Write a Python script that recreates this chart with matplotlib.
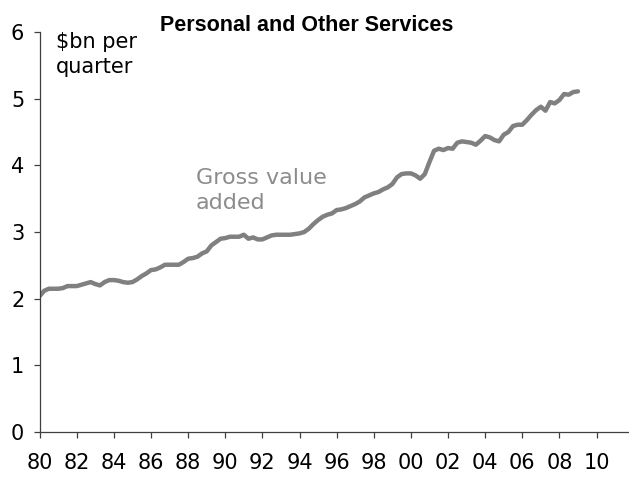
import numpy as np
import matplotlib.pyplot as plt

# Gross value added, personal and other services ($bn per quarter), 1980Q1 - 2009Q1
gva = [
    2.04, 2.12, 2.15, 2.15,   # 1980
    2.15, 2.16, 2.19, 2.19,   # 1981
    2.19, 2.21, 2.23, 2.25,   # 1982
    2.22, 2.20, 2.25, 2.28,   # 1983
    2.28, 2.27, 2.25, 2.24,   # 1984
    2.25, 2.29, 2.34, 2.38,   # 1985
    2.43, 2.44, 2.47, 2.51,   # 1986
    2.51, 2.51, 2.51, 2.55,   # 1987
    2.60, 2.61, 2.63, 2.68,   # 1988
    2.71, 2.80, 2.85, 2.90,   # 1989
    2.91, 2.93, 2.93, 2.93,   # 1990
    2.96, 2.90, 2.92, 2.89,   # 1991
    2.89, 2.92, 2.95, 2.96,   # 1992
    2.96, 2.96, 2.96, 2.97,   # 1993
    2.98, 3.00, 3.05, 3.12,   # 1994
    3.18, 3.23, 3.26, 3.28,   # 1995
    3.33, 3.34, 3.36, 3.39,   # 1996
    3.42, 3.46, 3.52, 3.55,   # 1997
    3.58, 3.60, 3.64, 3.67,   # 1998
    3.72, 3.82, 3.87, 3.88,   # 1999
    3.88, 3.85, 3.80, 3.87,   # 2000
    4.05, 4.22, 4.25, 4.23,   # 2001
    4.26, 4.25, 4.34, 4.36,   # 2002
    4.35, 4.34, 4.31, 4.37,   # 2003
    4.44, 4.42, 4.38, 4.36,   # 2004
    4.46, 4.50, 4.59, 4.61,   # 2005
    4.61, 4.68, 4.76, 4.83,   # 2006
    4.88, 4.82, 4.95, 4.93,   # 2007
    4.98, 5.07, 5.06, 5.10,   # 2008
    5.11,                     # 2009
]
start_year = 1980
tick_years = list(range(1980, 2011, 2))
tick_labels = ['%02d' % (y % 100) for y in tick_years]
y_ticks = [0, 1, 2, 3, 4, 5, 6]

t = start_year + np.arange(len(gva)) / 4.0

fig = plt.figure(figsize=(6.29, 4.78), dpi=100)
ax = fig.add_axes([0.063, 0.096, 0.937, 0.837])

ax.plot(t, gva, color='#808080', linewidth=3.2, solid_capstyle='round')

ax.set_xlim(1980, 2011.75)
ax.set_ylim(0, 6)
ax.set_xticks(tick_years)
ax.set_xticklabels(tick_labels)
ax.set_yticks(y_ticks)

for side in ['top', 'right']:
    ax.spines[side].set_visible(False)
for side in ['left', 'bottom']:
    ax.spines[side].set_color('#404040')
    ax.spines[side].set_linewidth(0.9)
ax.tick_params(axis='both', direction='out', length=4, width=0.9,
               color='#404040', labelsize=15)
ax.tick_params(axis='x', pad=11)
ax.tick_params(axis='y', pad=7)

fig.text(0.487, 0.946, 'Personal and Other Services', ha='center', va='center',
         fontsize=15.5, fontweight='bold', family='Liberation Sans')
# multi-line text: the baseline anchor is the last line
ax.text(1980.86, 5.39, '$bn per\nquarter', ha='left', va='baseline',
        fontsize=15, linespacing=1.3)
ax.text(1988.4, 3.35, 'Gross value\nadded', ha='left', va='baseline',
        fontsize=16, color='#8c8c8c', linespacing=1.3)

fig.savefig('out.png', dpi=100)
